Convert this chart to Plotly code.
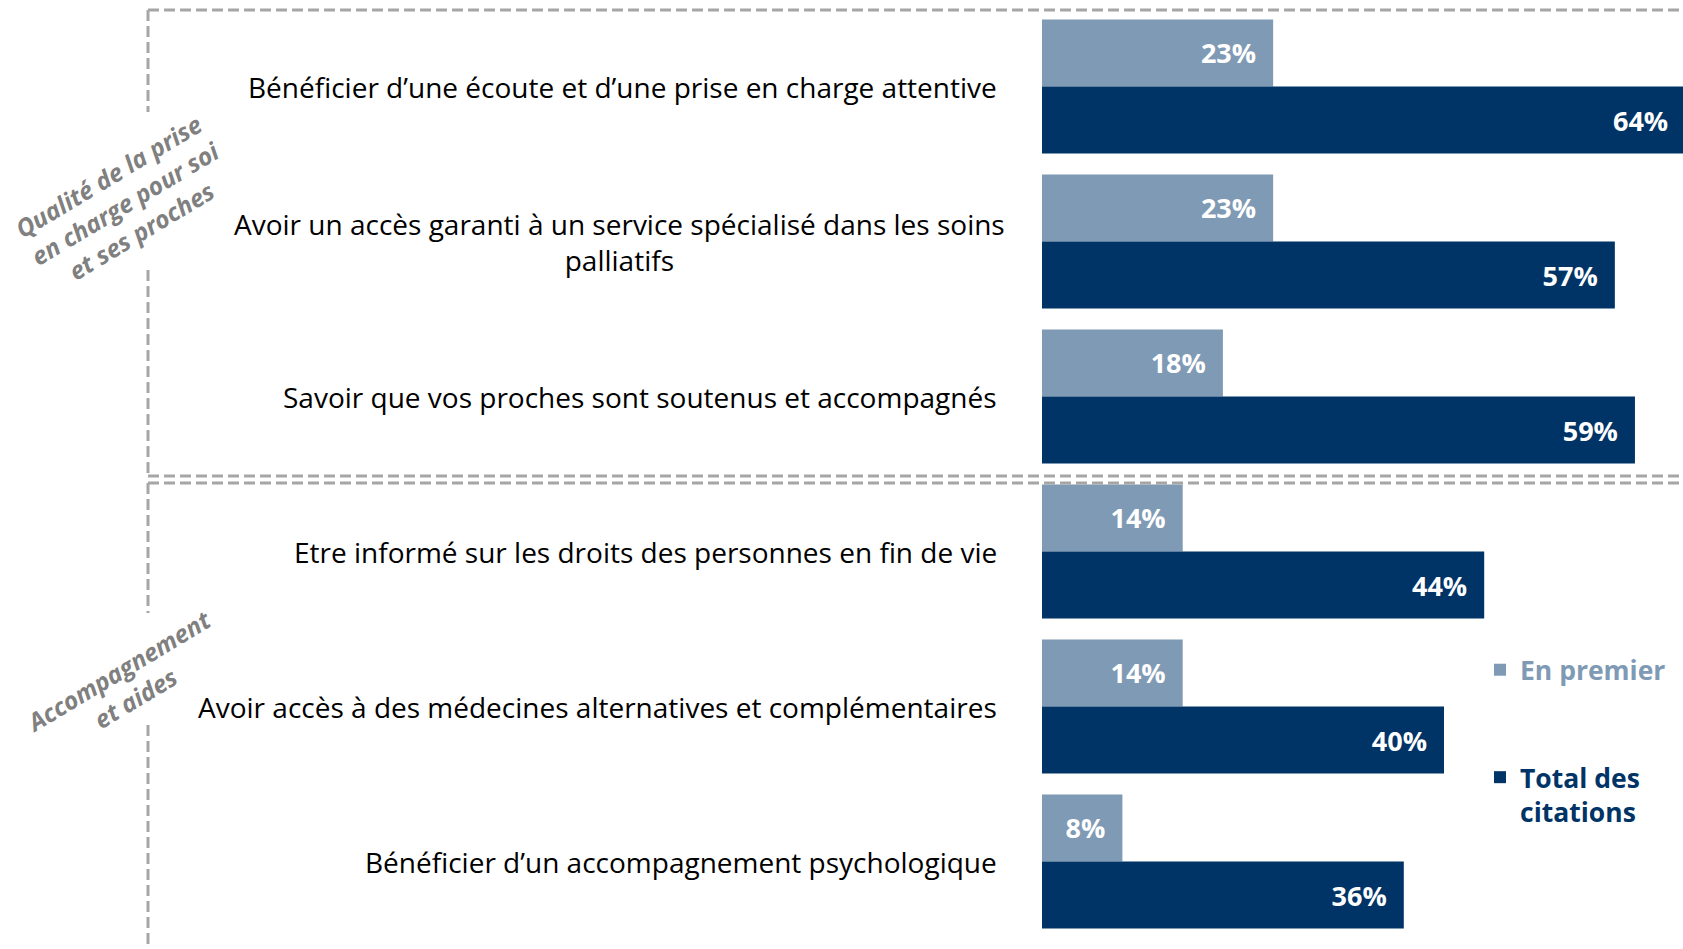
import plotly.graph_objects as go

# ---------------- data ----------------
categories = [
    "Bénéficier d’une écoute et d’une prise en charge attentive",
    "Avoir un accès garanti à un service spécialisé dans les soins<br>palliatifs",
    "Savoir que vos proches sont soutenus et accompagnés",
    "Etre informé sur les droits des personnes en fin de vie",
    "Avoir accès à des médecines alternatives et complémentaires",
    "Bénéficier d’un accompagnement psychologique",
]
en_premier = [23, 23, 18, 14, 14, 8]
total_citations = [64, 57, 59, 44, 40, 36]
series_names = ["En premier", "Total des<br>citations"]
group_labels = ["Qualité de la prise<br>en charge pour soi<br>et ses proches",
                "Accompagnement<br>et aides"]

# ---------------- style ----------------
LIGHT = "#7f9ab4"
DARK = "#003366"
GREY = "#a6a6a6"
FONT = "Open Sans"

W, H = 1683, 949
PLOT_L, PLOT_T, PLOT_B = 1042, 9, 939   # plot area in page pixels
ML, MT, MB, MR = PLOT_L, PLOT_T, H - PLOT_B, 0
PW, PH = W - ML - MR, H - MT - MB
XMAX = PW / 10.05


def px2x(px):
    return (px - PLOT_L) / PW


def py2y(py):
    return (PLOT_B - py) / PH


fig = go.Figure()
pad = "\u00a0\u00a0"
fig.add_trace(go.Bar(
    y=categories, x=en_premier, orientation="h", name=series_names[0],
    legendgroup="a",
    marker=dict(color=LIGHT, line=dict(width=0)),
    texttemplate="%{x}%" + pad, textposition="inside", insidetextanchor="end",
    textfont=dict(family=FONT, size=27, color="white", weight="bold"),
    hoverinfo="skip",
))
fig.add_trace(go.Bar(
    y=categories, x=total_citations, orientation="h",
    name=series_names[1], legendgroup="b",
    marker=dict(color=DARK, line=dict(width=0)),
    texttemplate="%{x}%" + pad, textposition="inside", insidetextanchor="end",
    textfont=dict(family=FONT, size=27, color="white", weight="bold"),
    hoverinfo="skip",
))

annotations = []
for c in categories:
    annotations.append(dict(
        x=px2x(999), xref="paper", y=c, yref="y", text=c, showarrow=False,
        xanchor="right", yanchor="middle", align="center",
        xshift=8 if "<br>" in c else 0,
        font=dict(family=FONT, size=28, color="black"),
    ))

for lbl, (cx, cy) in zip(group_labels, [(125, 203), (127, 685)]):
    annotations.append(dict(
        x=px2x(cx), y=py2y(cy), xref="paper", yref="paper", text=lbl,
        showarrow=False, textangle=-31, xanchor="center", yanchor="middle",
        align="center",
        font=dict(family=FONT, size=24.5, color="#808080", weight="bold",
                  style="italic"),
    ))

shapes = []


def dline(x0, y0, x1, y1):
    shapes.append(dict(
        type="line", xref="paper", yref="paper",
        x0=px2x(x0), y0=py2y(y0), x1=px2x(x1), y1=py2y(y1),
        line=dict(color=GREY, width=3, dash="11px,5px"),
    ))


# upper box
dline(148, 10, W + 5, 10)
dline(148, 10, 148, 112)
dline(148, 270, 148, 476)
dline(148, 476, W + 5, 476)
# lower box
dline(148, 483, W + 5, 483)
dline(148, 483, 148, 613)
dline(148, 725, 148, H + 5)

fig.update_layout(
    width=W, height=H,
    margin=dict(l=ML, r=MR, t=MT, b=MB, pad=0),
    paper_bgcolor="white", plot_bgcolor="white",
    barmode="group", bargap=0.135, bargroupgap=0,
    xaxis=dict(range=[0, XMAX], visible=False, fixedrange=True),
    yaxis=dict(autorange="reversed", showticklabels=False, showgrid=False,
               zeroline=False, ticks="", fixedrange=True),
    showlegend=True,
    legend=dict(
        x=px2x(1480), y=py2y(646), xanchor="left", yanchor="top",
        traceorder="grouped", tracegroupgap=70, valign="top",
        font=dict(family=FONT, size=26.5, weight="bold"),
        bgcolor="rgba(0,0,0,0)",
    ),
    annotations=annotations, shapes=shapes,
    hovermode=False,
)

# colour legend texts per series
fig.data[0].name = "<span style='color:%s'>%s</span>" % (LIGHT, series_names[0])
fig.data[1].name = "<span style='color:%s'>%s</span>" % (DARK, series_names[1])

fig.write_html(
    "out.html",
    config=dict(displayModeBar=False),
    post_script="document.body.style.margin='0px';"
                "document.body.style.overflow='hidden';",
)
